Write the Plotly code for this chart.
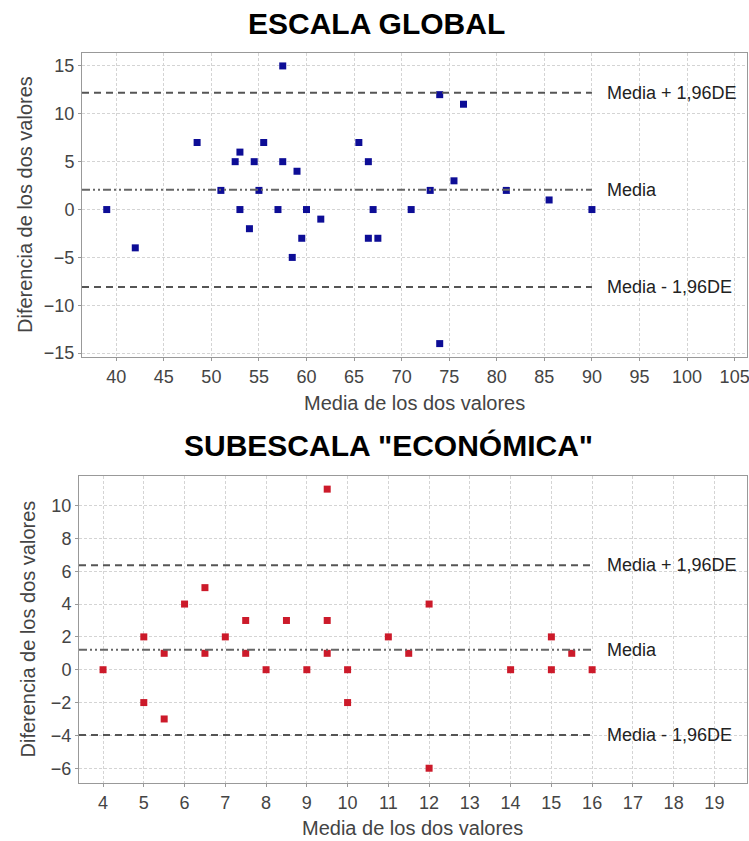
import plotly.graph_objects as go

# ---------------- data ----------------
global_mean = [39, 42, 48.5, 51, 52.5, 53, 53, 54, 54.5, 55, 55.5, 57, 57.5, 57.5, 58.5, 59, 59.5,
               60, 61.5, 65.5, 66.5, 66.5, 67, 67.5, 71, 73, 74, 74, 75.5, 76.5, 81, 85.5, 90]
global_diff = [0, -4, 7, 2, 5, 6, 0, -2, 5, 2, 7, 0, 15, 5, -5, 4, -3,
               0, -1, 7, 5, -3, 0, -3, 0, 2, 12, -14, 3, 11, 2, 1, 0]
global_lines = {"Media + 1,96DE": 12.2, "Media": 2.06, "Media - 1,96DE": -8.1}

econ_mean = [4, 5, 5, 5.5, 5.5, 6, 6.5, 6.5, 7, 7.5, 7.5, 8, 8.5, 9, 9.5, 9.5, 9.5,
             10, 10, 11, 11.5, 12, 12, 14, 15, 15, 15.5, 16]
econ_diff = [0, 2, -2, 1, -3, 4, 5, 1, 2, 3, 1, 0, 3, 0, 11, 3, 1,
             0, -2, 2, 1, 4, -6, 0, 2, 0, 1, 0]
econ_lines = {"Media + 1,96DE": 6.37, "Media": 1.21, "Media - 1,96DE": -3.97}

titles = ["ESCALA GLOBAL", 'SUBESCALA "ECONÓMICA"']
x_title = "Media de los dos valores"
y_title = "Diferencia de los dos valores"

# ---------------- layout helpers ----------------
W, H = 749, 841
def px(x): return x / W
def py(y): return 1 - y / H

FONT = "Liberation Sans, Arial, sans-serif"
TICK_COLOR = "#444444"

panels = [
    dict(xs=global_mean, ys=global_diff, lines=global_lines, color="#0d0d96",
         xbox=(82, 747), ybox=(53, 357), xrange=[36.4, 106.3], yrange=[-15.4, 16.35],
         xdtick=5, ydtick=5, title_xy=(376, 23), xt_y=403, yt_x=25),
    dict(xs=econ_mean, ys=econ_diff, lines=econ_lines, color="#cc1a2a",
         xbox=(79, 747), ybox=(476, 783), xrange=[3.41, 19.8], yrange=[-6.9, 11.8],
         xdtick=1, ydtick=2, title_xy=(388, 445), xt_y=828, yt_x=27),
]

fig = go.Figure()
annotations = []
layout_axes = {}

line_styles = {
    "Media + 1,96DE": dict(color="#555555", width=2, dash="7px,5px"),
    "Media": dict(color="#666666", width=2, dash="8px,3px,2px,3px,2px,3px"),
    "Media - 1,96DE": dict(color="#555555", width=2, dash="7px,5px"),
}

for i, p in enumerate(panels):
    n = "" if i == 0 else str(i + 1)
    xa, ya = "x" + n, "y" + n
    fig.add_trace(go.Scatter(
        x=p["xs"], y=p["ys"], mode="markers", xaxis=xa, yaxis=ya,
        marker=dict(symbol="square", size=7, color=p["color"], line=dict(width=0)),
        showlegend=False, hoverinfo="x+y"))
    xmax = max(p["xs"])
    for label, val in p["lines"].items():
        fig.add_trace(go.Scatter(
            x=[p["xrange"][0], xmax], y=[val, val], mode="lines", xaxis=xa, yaxis=ya,
            line=line_styles[label], showlegend=False, hoverinfo="skip"))
        annotations.append(dict(
            x=xmax, y=val, xref=xa, yref=ya, text=label, showarrow=False,
            xanchor="left", yanchor="middle", xshift=13,
            font=dict(family=FONT, size=18, color="#222222")))
    axis_common = dict(
        showgrid=True, gridcolor="#d4d4d4", griddash="3px,2px", gridwidth=1,
        zeroline=False, showline=True, linecolor="#999999", linewidth=1, mirror=True,
        ticks="outside", ticklen=3, tickcolor="#999999", automargin=False,
        ticklabeloverflow="allow",
        tickfont=dict(family=FONT, size=18, color=TICK_COLOR))
    layout_axes["xaxis" + n] = dict(
        axis_common, domain=[px(p["xbox"][0]), px(p["xbox"][1])], range=p["xrange"],
        dtick=p["xdtick"], tick0=0, anchor=ya)
    layout_axes["yaxis" + n] = dict(
        axis_common, domain=[py(p["ybox"][1]), py(p["ybox"][0])], range=p["yrange"],
        dtick=p["ydtick"], tick0=0, anchor=xa)
    tx, ty = p["title_xy"]
    annotations.append(dict(
        x=px(tx), y=py(ty), xref="paper", yref="paper", text="<b>%s</b>" % titles[i],
        showarrow=False, xanchor="center", yanchor="middle",
        font=dict(family=FONT, size=30, color="#000000")))
    annotations.append(dict(
        x=px((p["xbox"][0] + p["xbox"][1]) / 2), y=py(p["xt_y"]), xref="paper", yref="paper",
        text=x_title, showarrow=False, xanchor="center", yanchor="middle",
        font=dict(family=FONT, size=20, color=TICK_COLOR)))
    annotations.append(dict(
        x=px(p["yt_x"]), y=py((p["ybox"][0] + p["ybox"][1]) / 2), xref="paper", yref="paper",
        text=y_title, showarrow=False, xanchor="center", yanchor="middle", textangle=-90,
        font=dict(family=FONT, size=20, color=TICK_COLOR)))

fig.update_layout(
    width=W, height=H, margin=dict(l=0, r=0, t=0, b=0, autoexpand=False),
    paper_bgcolor="white", plot_bgcolor="white",
    annotations=annotations, **layout_axes)

fig.write_html(
    "out.html",
    config={"displayModeBar": False},
    post_script="document.body.style.margin='0';document.body.style.overflow='hidden';")
